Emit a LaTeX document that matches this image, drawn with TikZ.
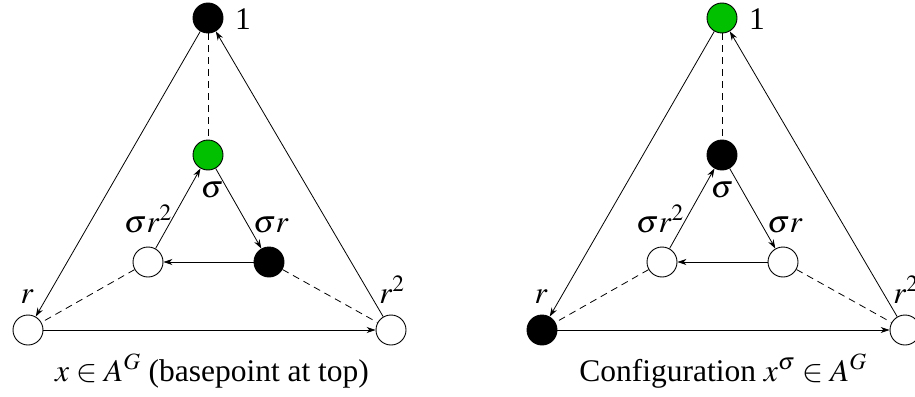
\documentclass[tikz,border=0pt]{standalone}
\usepackage{mathptmx}
\usepackage{fontspec}
\setmainfont{Liberation Serif}
\usetikzlibrary{arrows.meta}
\definecolor{nodegreen}{RGB}{0,192,0}
\begin{document}
\begin{tikzpicture}[x=1pt,y=-1pt,
 vtx/.style={circle,draw=black,line width=0.9pt,minimum size=30pt,inner sep=0pt},
 wh/.style={vtx,fill=white}, bk/.style={vtx,fill=black}, gr/.style={vtx,fill=nodegreen},
 arr/.style={-{Stealth[length=9pt,width=6pt]},line width=0.8pt},
 dsh/.style={dash pattern=on 7pt off 5pt,line width=0.8pt},
 lbl/.style={anchor=base,inner sep=0pt,font=\fontsize{31.5}{36}\selectfont}]
\useasboundingbox (0,0) rectangle (915,396);
% left diagram
\node[bk] (Lt) at (208,18) {};
\node[gr] (Ls) at (208,155) {};
\node[wh] (Lsr2) at (148,262) {};
\node[bk] (Lsr) at (269,262) {};
\node[wh] (Lr) at (28,330) {};
\node[wh] (Lr2) at (391,330) {};
\draw[arr] (Lt) -- (Lr);
\draw[arr] (Lr2) -- (Lt);
\draw[arr] (Lr) -- (Lr2);
\draw[dsh] (Lt) -- (Ls);
\draw[dsh] (Lsr2) -- (Lr);
\draw[dsh] (Lsr) -- (Lr2);
\draw[arr] (Ls) -- (Lsr);
\draw[arr] (Lsr) -- (Lsr2);
\draw[arr] (Lsr2) -- (Ls);
\node[lbl] (Llt) at (243,30) {1};
\node[lbl] (Lls) at (212,197) {$\sigma$};
\node[lbl] (Llsr2) at (148,232) {$\sigma r^2$};
\node[lbl] (Llsr) at (271,232) {$\sigma r$};
\node[lbl] (Llr) at (27,303) {$r$};
\node[lbl] (Llr2) at (392,303) {$r^2$};
\node[lbl] (Lcap) at (212,381) {$x\in A^G$ (basepoint at top)};
% right diagram
\node[gr] (Rt) at (722,18) {};
\node[bk] (Rs) at (722,155) {};
\node[wh] (Rsr2) at (662,262) {};
\node[wh] (Rsr) at (783,262) {};
\node[bk] (Rr) at (542,330) {};
\node[wh] (Rr2) at (905,330) {};
\draw[arr] (Rt) -- (Rr);
\draw[arr] (Rr2) -- (Rt);
\draw[arr] (Rr) -- (Rr2);
\draw[dsh] (Rt) -- (Rs);
\draw[dsh] (Rsr2) -- (Rr);
\draw[dsh] (Rsr) -- (Rr2);
\draw[arr] (Rs) -- (Rsr);
\draw[arr] (Rsr) -- (Rsr2);
\draw[arr] (Rsr2) -- (Rs);
\node[lbl] (Rlt) at (757,30) {1};
\node[lbl] (Rls) at (722,197) {$\sigma$};
\node[lbl] (Rlsr2) at (660,232) {$\sigma r^2$};
\node[lbl] (Rlsr) at (785,232) {$\sigma r$};
\node[lbl] (Rlr) at (541,303) {$r$};
\node[lbl] (Rlr2) at (906,303) {$r^2$};
\node[lbl] (Rcap) at (723,381) {Configuration $x^\sigma\in A^G$};
\end{tikzpicture}
\end{document}
